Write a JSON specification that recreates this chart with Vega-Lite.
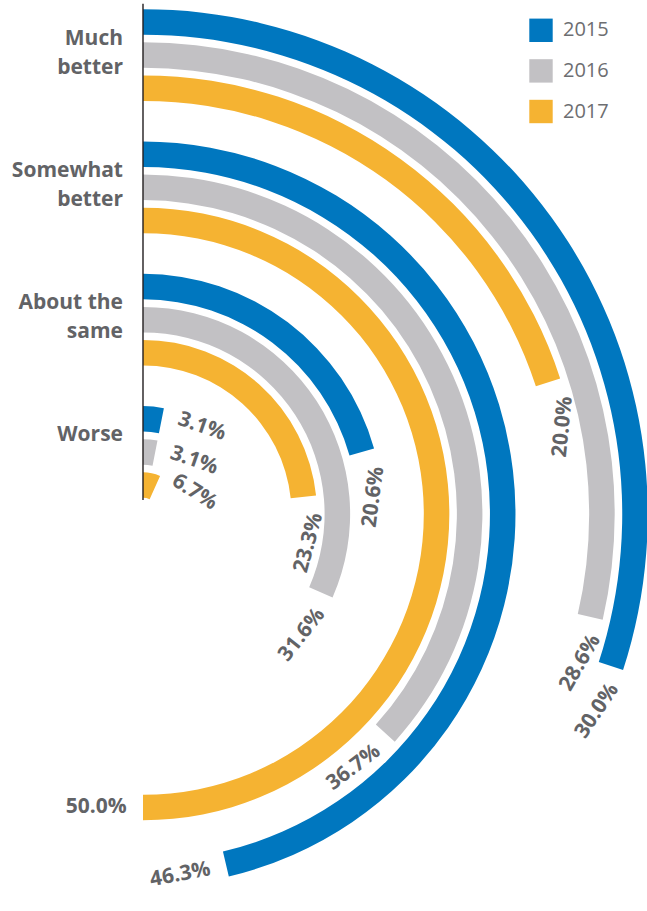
{
  "$schema": "https://vega.github.io/schema/vega-lite/v6.json",
  "autosize": {"type": "none"},
  "padding": {"left": 0, "top": 117, "right": 361, "bottom": 0},
  "width": 286,
  "height": 794,
  "background": "white",
  "config": {
    "view": {"stroke": null},
    "font": "Open Sans",
    "legend": {
      "padding": 0,
      "offset": 0,
      "labelFont": "Open Sans",
      "labelFontSize": 20,
      "labelColor": "#6d6e71",
      "symbolType": "square",
      "symbolSize": 548,
      "symbolStrokeWidth": 0,
      "symbolOpacity": 1,
      "rowPadding": 16.6,
      "labelOffset": 10
    }
  },
  "datasets": {
    "bars": [
      {"category": "Much better", "year": "2015", "value": 30.0},
      {"category": "Much better", "year": "2016", "value": 28.6},
      {"category": "Much better", "year": "2017", "value": 20.0},
      {"category": "Somewhat better", "year": "2015", "value": 46.3},
      {"category": "Somewhat better", "year": "2016", "value": 36.7},
      {"category": "Somewhat better", "year": "2017", "value": 50.0},
      {"category": "About the same", "year": "2015", "value": 20.6},
      {"category": "About the same", "year": "2016", "value": 31.6},
      {"category": "About the same", "year": "2017", "value": 23.3},
      {"category": "Worse", "year": "2015", "value": 3.1},
      {"category": "Worse", "year": "2016", "value": 3.1},
      {"category": "Worse", "year": "2017", "value": 6.7}
    ],
    "cats": [
      {"category": "Much better", "lines": ["Much", "better"]},
      {"category": "Somewhat better", "lines": ["Somewhat", "better"]},
      {"category": "About the same", "lines": ["About the", "same"]},
      {"category": "Worse", "lines": ["Worse"]}
    ]
  },
  "layer": [
    {
      "data": {"name": "bars"},
      "transform": [
        {"calculate": "indexof(['Much better','Somewhat better','About the same','Worse'], datum.category)", "as": "gi"},
        {"calculate": "indexof(['2015','2016','2017'], datum.year)", "as": "yi"},
        {"calculate": "datum.gi*4 + datum.yi", "as": "slot"},
        {"calculate": "datum.slot - 0.386", "as": "ro"},
        {"calculate": "datum.slot + 0.386", "as": "ri"}
      ],
      "mark": {"type": "arc"},
      "encoding": {
        "theta": {"field": "value", "type": "quantitative", "stack": null, "scale": {"domain": [0, 100], "range": [0, 6.283185307179586]}},
        "theta2": {"datum": 0},
        "radius": {"field": "ro", "type": "quantitative", "scale": {"type": "linear", "domain": [0, 14], "range": [492, 29], "zero": false, "nice": false}},
        "radius2": {"field": "ri"},
        "color": {
          "field": "year",
          "type": "nominal",
          "scale": {"domain": ["2015", "2016", "2017"], "range": ["#0077bf", "#c2c1c4", "#f5b332"]},
          "legend": {"title": null, "orient": "none", "legendX": 529, "legendY": -98.7}
        }
      }
    },
    {
      "data": {"name": "bars"},
      "transform": [
        {"calculate": "indexof(['Much better','Somewhat better','About the same','Worse'], datum.category)", "as": "gi"},
        {"calculate": "indexof(['2015','2016','2017'], datum.year)", "as": "yi"},
        {"calculate": "datum.gi*4 + datum.yi", "as": "slot"},
        {"calculate": "format(datum.value, '.1f') + '%'", "as": "label"},
        {"calculate": "492 - datum.slot*33.07", "as": "rpx"},
        {"calculate": "max(datum.rpx + max(3, 15 - 0.05*datum.rpx), 56)", "as": "lr"},
        {"calculate": "(492 - datum.lr)/33.07", "as": "lslot"},
        {"calculate": "datum.value + (22 + 5*length(datum.label)) / datum.lr * 100 / (2*PI)", "as": "lt"},
        {"calculate": "datum.value*3.6", "as": "deg"},
        {"calculate": "datum.deg < 60 ? datum.deg + 8 : (datum.deg - 180)*0.78", "as": "rot"}
      ],
      "mark": {"type": "text", "font": "Open Sans", "fontWeight": "bold", "fontSize": 21, "color": "#626366", "align": "center", "baseline": "middle"},
      "encoding": {
        "theta": {"field": "lt", "type": "quantitative", "stack": null},
        "radius": {"field": "lslot", "type": "quantitative"},
        "text": {"field": "label"},
        "angle": {"field": "rot", "type": "quantitative", "scale": null}
      }
    },
    {
      "data": {"name": "cats"},
      "transform": [
        {"calculate": "indexof(['Much better','Somewhat better','About the same','Worse'], datum.category)", "as": "gi"},
        {"calculate": "datum.gi*4 + 0.5", "as": "lslot"}
      ],
      "mark": {"type": "text", "font": "Open Sans", "fontWeight": "bold", "fontSize": 21, "color": "#626366", "align": "right", "baseline": "middle", "dx": -20, "lineHeight": 29},
      "encoding": {
        "theta": {"datum": 0},
        "radius": {"field": "lslot", "type": "quantitative"},
        "text": {"field": "lines"}
      }
    },
    {
      "data": {"values": [{}]},
      "mark": {"type": "arc", "fill": null, "stroke": "#231f20", "strokeWidth": 1.4},
      "encoding": {
        "theta": {"datum": 0},
        "theta2": {"datum": 0},
        "radius": {"datum": -0.55},
        "radius2": {"datum": 14.45}
      }
    }
  ]
}
